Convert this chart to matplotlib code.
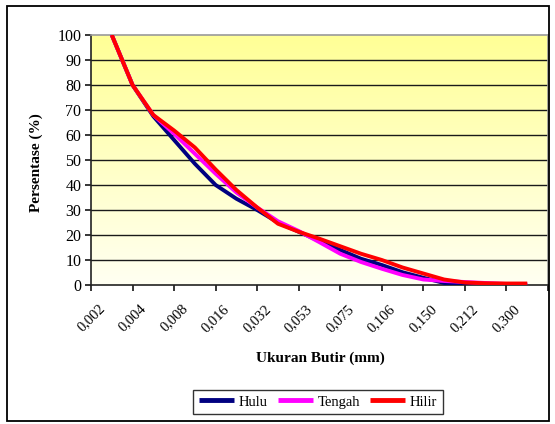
import numpy as np
import matplotlib
matplotlib.use('Agg')
import matplotlib.pyplot as plt
import matplotlib.transforms as mtransforms
from matplotlib.patches import Rectangle

# ===== Data =====
categories = ["0,002", "0,004", "0,008", "0,016", "0,032", "0,053",
              "0,075", "0,106", "0,150", "0,212", "0,300"]

# values read at every half category step (first point = first category)
hulu = [100, 80, 67.5, 58, 48.5, 40, 34.5, 30, 25, 21.3, 17.6,
        14, 10.5, 8, 5.1, 2.9, 0.8, 0.3, 0.2, 0.1, 0.1]
tengah = [100, 80, 68, 60.5, 52.5, 44.5, 37, 31, 25.5, 21.6, 17.1,
          12.5, 9.2, 6.5, 4, 2.2, 1.6, 1.2, 0.8, 0.4, 0.3]
hilir = [100, 80, 68, 61.8, 55, 46.2, 38, 31, 24.5, 21.3, 18.5,
         15.5, 12.5, 10, 7, 4.6, 2.2, 1, 0.7, 0.6, 0.6]

series = [("Hulu", hulu, "#000080"),
          ("Tengah", tengah, "#FF00FF"),
          ("Hilir", hilir, "#FF0000")]

yticks = list(range(0, 101, 10))

plt.rcParams['font.family'] = ['Liberation Serif', 'DejaVu Serif']

W, H = 555, 424
fig = plt.figure(figsize=(W / 100, H / 100), dpi=100)
ax = fig.add_axes([91 / W, 1 - 285 / H, (548 - 91) / W, (285 - 35) / H])

# outer chart border
fig.patches.append(Rectangle((7 / W, 1 - 421 / H), 542 / W, 415 / H,
                             transform=fig.transFigure, fill=False,
                             edgecolor='black', linewidth=1.3))

n_cat = len(categories)
ax.set_xlim(0, n_cat)
ax.set_ylim(0, 100)

# yellow gradient background
grad = np.linspace(0, 1, 256).reshape(-1, 1)
top = np.array([255, 255, 150]) / 255
bot = np.array([255, 255, 242]) / 255
img = bot + (top - bot) * grad
ax.imshow(img[:, None, :].repeat(2, axis=1), extent=[0, n_cat, 0, 100],
          origin='lower', aspect='auto', zorder=0)

for y in yticks[1:-1]:
    ax.axhline(y, color='#1a1a1a', linewidth=1.0, zorder=1)

xpos = np.arange(len(hulu)) / 2 + 0.5
for name, vals, col in series:
    ax.plot(xpos, vals, color=col, linewidth=2.8, label=name,
            solid_joinstyle='round', solid_capstyle='butt', zorder=3)

# spines
for s in ['top', 'right']:
    ax.spines[s].set_color('#9a9a9a')
    ax.spines[s].set_linewidth(1.2)
for s in ['left', 'bottom']:
    ax.spines[s].set_color('#222222')
    ax.spines[s].set_linewidth(1.2)

ax.set_yticks(yticks)
ax.tick_params(axis='y', direction='out', length=4, width=1.1,
               pad=3, labelsize=11.5)

# tick marks between categories, labels at category centres
ax.set_xticks(np.arange(0, n_cat + 1), minor=True)
ax.set_xticks(np.arange(n_cat) + 0.5)
ax.set_xticklabels(categories, rotation=45, ha='right', va='top',
                   rotation_mode='anchor', fontsize=10.5)
ax.tick_params(axis='x', which='minor', direction='out', length=4, width=1.1)
ax.tick_params(axis='x', which='major', length=0, pad=0)
offset = mtransforms.ScaledTranslation(-14 / 100, -17 / 100, fig.dpi_scale_trans)
for lab in ax.get_xticklabels():
    lab.set_transform(lab.get_transform() + offset)

fig.text(36 / W, 1 - 163 / H, "Persentase (%)", rotation=90, ha='center',
         va='center', fontsize=11, fontweight='bold')
fig.text(320 / W, 1 - 358 / H, "Ukuran Butir (mm)", ha='center',
         va='center', fontsize=11, fontweight='bold')

leg = fig.legend(loc='center', bbox_to_anchor=(318 / W, 1 - 402 / H), ncol=3,
                 fontsize=10.5, frameon=True, fancybox=False, edgecolor='black',
                 handlelength=2.4, handletextpad=0.3, columnspacing=0.7,
                 borderpad=0.4, borderaxespad=0)
leg.get_frame().set_linewidth(1.0)
for line in leg.get_lines():
    line.set_linewidth(3.5)

fig.savefig("out.png", dpi=100)
